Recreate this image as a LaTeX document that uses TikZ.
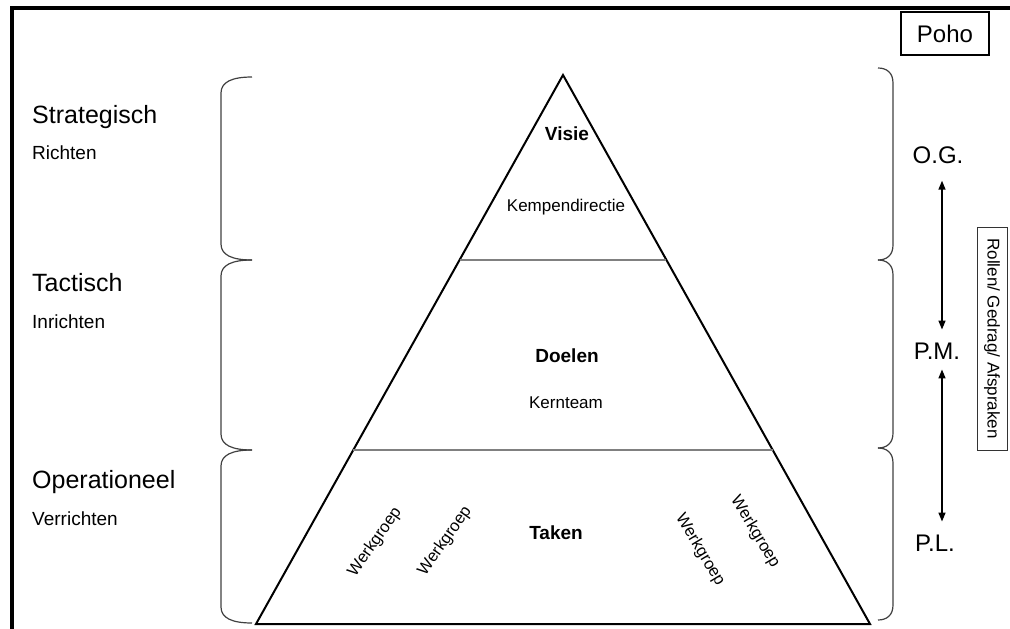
\documentclass[tikz,border=0pt]{standalone}
\usepackage{fontspec}
\setmainfont{Liberation Sans}
\usetikzlibrary{arrows.meta,calc}

\begin{document}
\begin{tikzpicture}[x=1pt,y=-1pt,
    level/.style={font=\fontsize{25}{30}\selectfont,anchor=base west,inner sep=0pt},
    verb/.style={font=\fontsize{19}{23}\selectfont,anchor=base west,inner sep=0pt},
    tier/.style={font=\bfseries\fontsize{19}{23}\selectfont,inner sep=0pt},
    team/.style={font=\fontsize{17}{20}\selectfont,inner sep=0pt},
    groep/.style={font=\fontsize{16.5}{19}\selectfont,inner sep=0pt},
    rank/.style={font=\fontsize{24}{28}\selectfont,inner sep=0pt},
    bracket/.style={draw=black!75,line width=1.2pt},
    pijl/.style={{Triangle[length=9pt,width=7pt]}-{Triangle[length=9pt,width=7pt]},line width=1.5pt}]

   \useasboundingbox (0,0) rectangle (1010,629);

   % kader
   \draw[line width=4.5pt] (12,629) -- (12,8) -- (1010,8);

   % niveaus links
   \node[level] (strat) at (32,123) {Strategisch};
   \node[verb]  (richt) at (32,159) {Richten};
   \node[level] (tact)  at (32,291) {Tactisch};
   \node[verb]  (inr)   at (32,328) {Inrichten};
   \node[level] (oper)  at (32,488) {Operationeel};
   \node[verb]  (verr)  at (32,525) {Verrichten};

   % accolades links
   \foreach \a/\b in {77/260, 260/450, 450/623}
      \draw[bracket] (252,\a) .. controls (232,\a) and (221,\a+5) .. (221,\a+16)
         -- (221,\b-16) .. controls (221,\b-5) and (232,\b) .. (252,\b);

   % piramide
   \coordinate (top) at (563,75);
   \coordinate (bl)  at (256,624);
   \coordinate (br)  at (870,624);
   \draw[line width=2pt] (top) -- (bl) -- (br) -- cycle;
   \draw[gray,line width=2pt] ($(top)!0.337!(bl)$) -- ($(top)!0.337!(br)$);
   \draw[gray,line width=2pt] ($(top)!0.683!(bl)$) -- ($(top)!0.683!(br)$);

   \node[tier] (visie)  at (567,134) {Visie};
   \node[team] (kemp)   at (566,207) {Kempendirectie};
   \node[tier] (doelen) at (567,356) {Doelen};
   \node[team] (kern)   at (566,403) {Kernteam};
   \node[tier] (taken)  at (556,533) {Taken};

   \node[groep,rotate=55]  (wg1) at (375,542) {Werkgroep};
   \node[groep,rotate=55]  (wg2) at (445,541) {Werkgroep};
   \node[groep,rotate=-59] (wg3) at (700,550) {Werkgroep};
   \node[groep,rotate=-59] (wg4) at (755,532) {Werkgroep};

   % accolades rechts
   \foreach \a/\b in {68/260, 260/448, 448/620}
      \draw[bracket] (878,\a) .. controls (887,\a) and (893,\a+5) .. (893,\a+15)
         -- (893,\b-15) .. controls (893,\b-5) and (887,\b) .. (878,\b);

   % rollen
   \node[rank] (og) at (938,155) {O.G.};
   \node[rank] (pm) at (937,351) {P.M.};
   \node[rank] (pl) at (935,543) {P.L.};
   \draw[pijl,shorten <=17pt,shorten >=13pt] (og.south -| 942,0) -- (pm.north -| 942,0);
   \draw[pijl,shorten <=10pt,shorten >=13pt] (pm.south -| 942,0) -- (pl.north -| 942,0);

   \node[rank,draw,line width=1.5pt,minimum width=88pt,minimum height=43pt] (poho) at (945,33.5) {Poho};
   \node[team,draw=black!80,line width=1pt,rotate=-90,minimum width=223pt,minimum height=30pt]
      (rollen) at (992,338.5) {Rollen/ Gedrag/ Afspraken};

\end{tikzpicture}
\end{document}
